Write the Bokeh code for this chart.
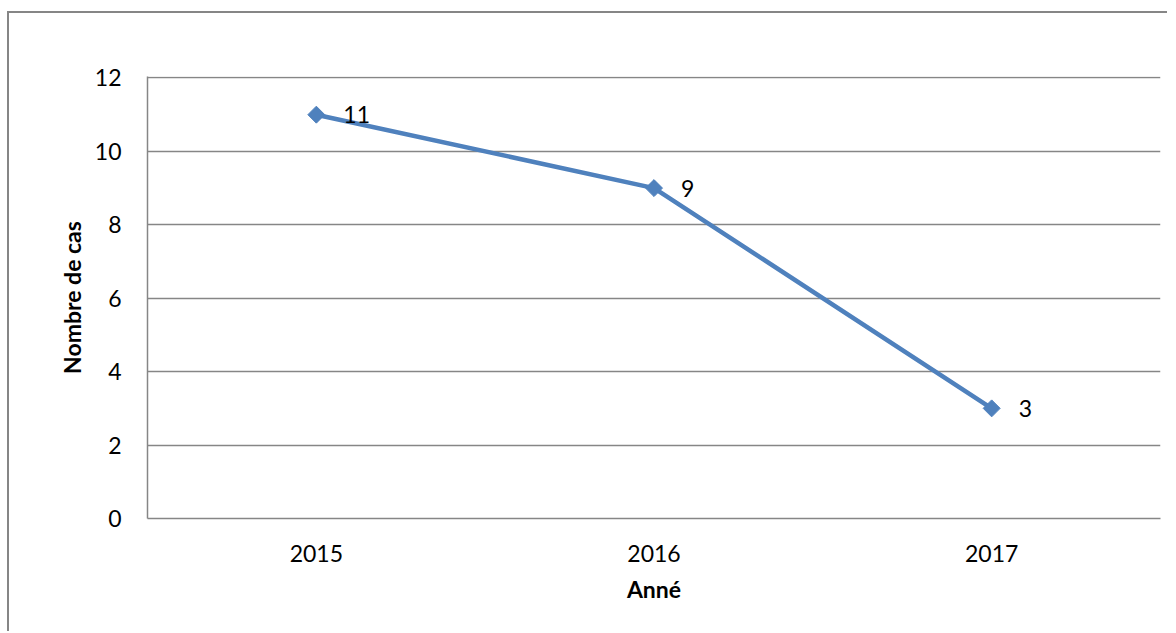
import math
from bokeh.plotting import figure
from bokeh.models import FactorRange, Range1d, FixedTicker
from bokeh.core.properties import value
from bokeh.embed import file_html
from bokeh.resources import INLINE

# Data
years = ["2015", "2016", "2017"]
cases = [11, 9, 3]
y_ticks = [0, 2, 4, 6, 8, 10, 12]

FONT = "Lato"
SIZE = "23px"
GRID = "#868686"
BLUE = "#4F81BD"

p = figure(
    x_range=FactorRange(*years),
    y_range=Range1d(0, 12.04),
    width=1160, height=620,
    output_backend="svg",
    toolbar_location=None,
    min_border_left=138, min_border_right=9,
    min_border_top=63, min_border_bottom=115,
    background_fill_color="white", border_fill_color="white",
)
p.margin = (11, 0, 0, 7)
p.styles = {"border-left": f"2px solid {GRID}", "border-top": f"2px solid {GRID}"}
p.outline_line_color = None

# Axes
p.xaxis.axis_label = "Anné"
p.yaxis.axis_label = "Nombre de cas"
p.yaxis.ticker = FixedTicker(ticks=y_ticks)
for ax in (p.xaxis[0], p.yaxis[0]):
    ax.axis_line_color = GRID
    ax.axis_line_width = 1.5
    ax.major_tick_line_color = None
    ax.minor_tick_line_color = None
    ax.major_label_text_font = FONT
    ax.major_label_text_font_size = SIZE
    ax.major_label_text_color = "black"
    ax.axis_label_text_font = FONT
    ax.axis_label_text_font_size = SIZE
    ax.axis_label_text_font_style = "bold"
    ax.axis_label_text_color = "black"
p.yaxis.major_label_standoff = 20
p.yaxis.axis_label_standoff = 6
p.xaxis.major_label_standoff = 20
p.xaxis.axis_label_standoff = 10

# Grid
p.xgrid.grid_line_color = None
p.ygrid.ticker = FixedTicker(ticks=y_ticks)
p.ygrid.grid_line_color = GRID
p.ygrid.grid_line_width = 1.5

# Series
p.line(years, cases, line_color=BLUE, line_width=4.5)
p.scatter(years, cases, marker="square", size=12, angle=math.pi / 4,
          fill_color=BLUE, line_color=BLUE)
p.text(years, cases, text=[str(c) for c in cases], x_offset=27,
       text_align="left", text_baseline="middle",
       text_font=value(FONT), text_font_size=SIZE, text_color="black")

open("out.html", "w").write(file_html(p, INLINE))
